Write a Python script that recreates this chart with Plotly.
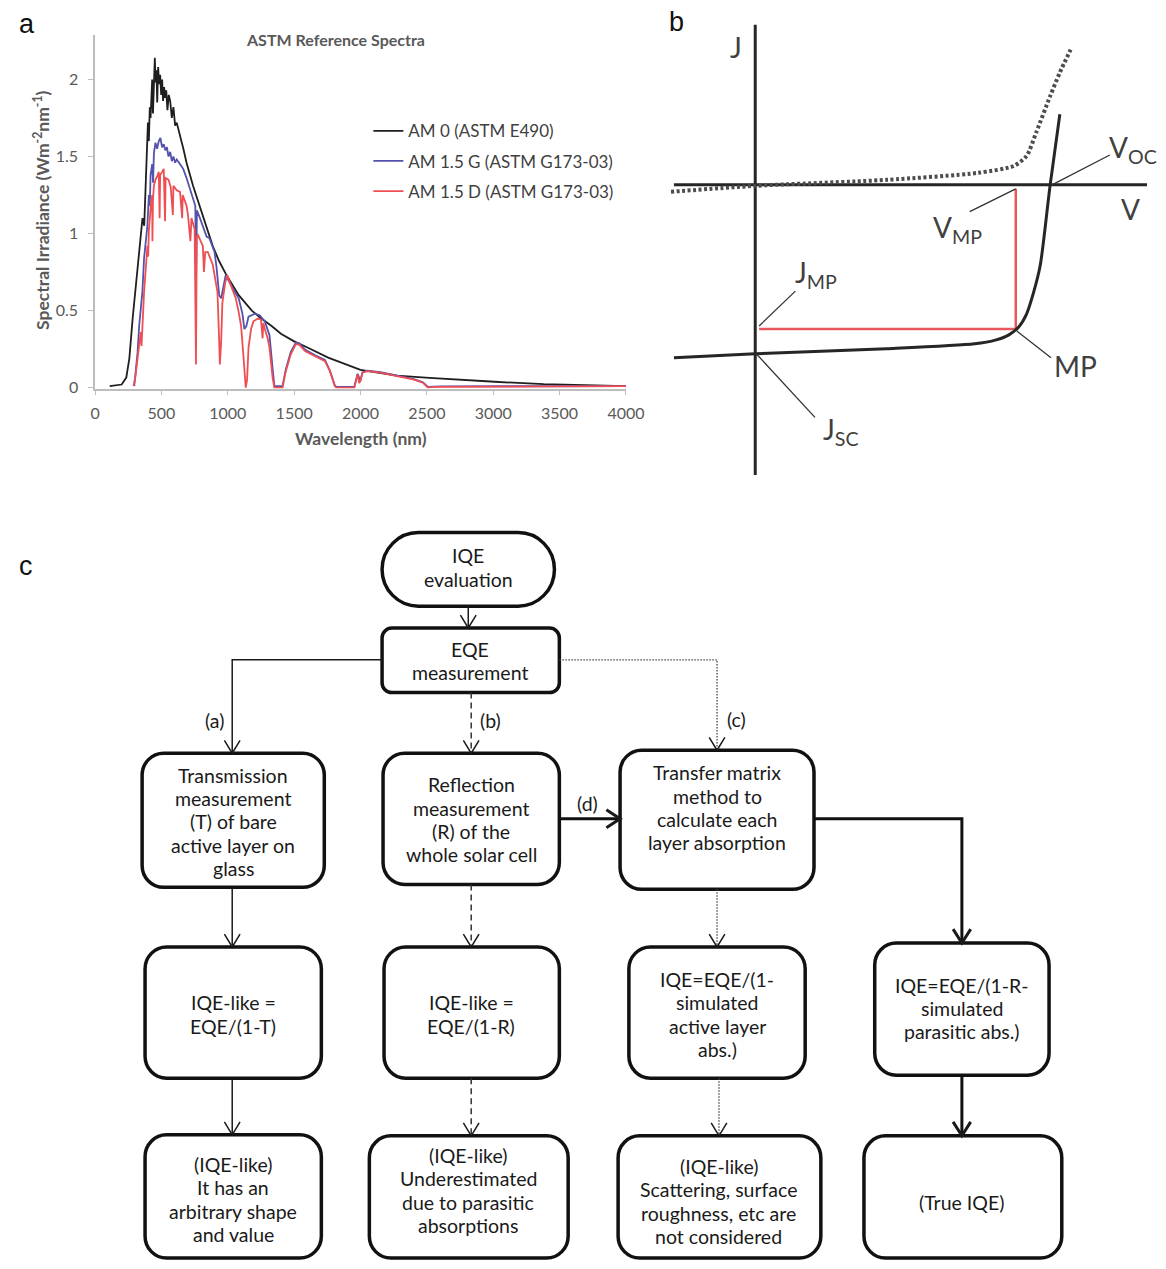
import plotly.graph_objects as go

W, H = 1166, 1269

# ---------------- Panel a: ASTM reference spectra ----------------
am0_wl = [110, 200, 235, 258, 283, 307, 320, 332, 345, 357, 370, 381, 392, 398, 405, 412, 418, 425,
          430, 436, 442, 450, 456, 462, 468, 475, 482, 490, 498, 505, 512, 520, 528, 536, 545, 555,
          566, 578, 590, 603, 615, 630, 650, 665, 689, 738, 787, 836, 886, 935, 984, 1082, 1181, 1250,
          1330, 1400, 1500, 1600, 1756, 2000, 2273, 2519, 2765, 3011, 3380, 3700, 4000]
am0_val = [0.01, 0.02, 0.065, 0.19, 0.45, 0.67, 0.80, 0.90, 1.02, 1.10, 1.05, 1.31, 1.45, 1.72, 1.60,
           1.82, 1.75, 1.92, 2.0, 1.78, 1.95, 2.14, 1.98, 2.06, 1.85, 2.08, 1.97, 2.03, 1.90, 2.0,
           1.86, 1.95, 1.88, 1.93, 1.80, 1.90, 1.86, 1.75, 1.82, 1.70, 1.72, 1.66, 1.60, 1.55, 1.46,
           1.31, 1.18, 1.05, 0.92, 0.82, 0.74, 0.60, 0.50, 0.45, 0.40, 0.35, 0.30, 0.26, 0.195,
           0.115, 0.078, 0.063, 0.049, 0.038, 0.022, 0.013, 0.009]

g_wl = [295, 310, 320, 332, 344, 356, 369, 381, 394, 405, 412, 418, 430, 437, 443, 455, 467, 480,
        492, 505, 517, 529, 541, 553, 566, 578, 590, 603, 615, 640, 664, 689, 713, 738, 755, 761,
        767, 790, 812, 840, 861, 900, 915, 935, 950, 968, 984, 1033, 1082, 1110, 1125, 1140, 1156,
        1205, 1240, 1279, 1314, 1338, 1351, 1412, 1437, 1474, 1511, 1535, 1584, 1658, 1732, 1769,
        1806, 1818, 1953, 1978, 1998, 2015, 2052, 2150, 2273, 2396, 2470, 2507, 2600, 3000, 3500, 4000]
g_val = [0.01, 0.12, 0.23, 0.40, 0.51, 0.62, 0.84, 0.95, 1.05, 1.25, 1.18, 1.38, 1.45, 1.33, 1.52,
         1.59, 1.55, 1.60, 1.62, 1.56, 1.58, 1.54, 1.56, 1.50, 1.53, 1.47, 1.50, 1.46, 1.48, 1.45,
         1.42, 1.36, 1.29, 1.23, 1.18, 0.70, 1.15, 1.10, 1.05, 0.98, 0.97, 0.88, 0.78, 0.60, 0.58,
         0.66, 0.73, 0.65, 0.58, 0.48, 0.38, 0.40, 0.46, 0.48, 0.47, 0.43, 0.34, 0.12, 0.01, 0.01,
         0.12, 0.23, 0.29, 0.29, 0.245, 0.21, 0.18, 0.11, 0.015, 0.005, 0.005, 0.09, 0.045, 0.10,
         0.11, 0.10, 0.078, 0.056, 0.034, 0.005, 0.008, 0.008, 0.009, 0.01]

d_wl = [290, 305, 320, 335, 344, 350, 356, 369, 380, 394, 400, 405, 418, 430, 432, 436, 443, 455,
        467, 480, 486, 490, 505, 517, 527, 531, 553, 570, 586, 590, 615, 640, 656, 660, 689, 700,
        718, 726, 750, 760, 766, 775, 812, 820, 830, 849, 886, 900, 922, 935, 940, 950, 959, 980,
        996, 1033, 1060, 1082, 1100, 1119, 1135, 1145, 1156, 1175, 1193, 1230, 1250, 1262, 1268,
        1279, 1300, 1314, 1338, 1351, 1412, 1437, 1474, 1511, 1535, 1584, 1658, 1700, 1732, 1769,
        1806, 1818, 1953, 1978, 1990, 1998, 2015, 2052, 2150, 2273, 2396, 2470, 2507, 2550, 3000,
        3400, 3600, 4000]
d_val = [0.01, 0.08, 0.19, 0.30, 0.36, 0.27, 0.42, 0.62, 0.75, 0.92, 0.85, 1.02, 1.16, 1.25, 0.95,
         1.22, 1.31, 1.35, 1.37, 1.40, 1.10, 1.38, 1.40, 1.42, 1.08, 1.36, 1.35, 1.30, 1.12, 1.31,
         1.28, 1.27, 1.10, 1.25, 1.18, 1.12, 0.95, 1.10, 1.03, 0.15, 0.98, 0.99, 0.92, 0.75, 0.88,
         0.88, 0.80, 0.72, 0.62, 0.30, 0.15, 0.30, 0.55, 0.68, 0.73, 0.64, 0.58, 0.49, 0.40, 0.19,
         0.0, 0.05, 0.26, 0.38, 0.43, 0.45, 0.44, 0.32, 0.42, 0.38, 0.32, 0.26, 0.06, 0.0, 0.0,
         0.107, 0.215, 0.28, 0.28, 0.236, 0.204, 0.19, 0.172, 0.107, 0.01, 0.0, 0.0, 0.086, 0.03,
         0.04, 0.097, 0.107, 0.097, 0.075, 0.054, 0.032, 0.0, 0.005, 0.006, 0.008, 0.01, 0.01]

spectra_names = ["AM 0 (ASTM E490)", "AM 1.5 G (ASTM G173-03)", "AM 1.5 D (ASTM G173-03)"]
x_ticks = [0, 500, 1000, 1500, 2000, 2500, 3000, 3500, 4000]
y_ticks = [0, 0.5, 1, 1.5, 2]

# ---------------- Panel b: J-V schematic ----------------
light_V = [-0.083, 0.0, 0.134, 0.224, 0.246, 0.259, 0.269, 0.277, 0.284, 0.291, 0.301, 0.311]
light_J = [-17.4, -17.0, -16.5, -16.0, -15.6, -15.1, -14.3, -13.0, -10.9, -8.1, -0.1, 7.1]
dark_V = [-0.086, 0.0, 0.134, 0.227, 0.264, 0.277, 0.287, 0.301, 0.311, 0.322]
dark_J = [-0.7, -0.1, 0.5, 1.2, 1.9, 2.9, 5.3, 8.9, 11.3, 13.6]
V_MP, J_MP = 0.266, -14.5

# ---------------- Panel c: flowchart ----------------
node_text = {
    "start": ["IQE", "evaluation"],
    "eqe": ["EQE", "measurement"],
    "T": ["Transmission", "measurement", "(T) of bare", "active layer on", "glass"],
    "R": ["Reflection", "measurement", "(R) of the", "whole solar cell"],
    "TM": ["Transfer matrix", "method to", "calculate each", "layer absorption"],
    "A2": ["IQE-like =", "EQE/(1-T)"],
    "B2": ["IQE-like =", "EQE/(1-R)"],
    "C2": ["IQE=EQE/(1-", "simulated", "active layer", "abs.)"],
    "D2": ["IQE=EQE/(1-R-", "simulated", "parasitic abs.)"],
    "A3": ["(IQE-like)", "It has an", "arbitrary shape", "and value"],
    "B3": ["(IQE-like)", "Underestimated", "due to parasitic", "absorptions"],
    "C3": ["(IQE-like)", "Scattering, surface", "roughness, etc are", "not considered"],
    "D3": ["(True IQE)"],
}
edge_labels = ["(a)", "(b)", "(c)", "(d)"]

# layout of the flowchart (box geometry in panel units)
node_box = {
    "start": (385, 536, 561, 610, 37),
    "eqe": (385, 632, 566, 697, 10),
    "T": (140, 758, 326, 893, 22),
    "R": (386, 758, 566, 890, 22),
    "TM": (628, 755, 826, 895, 22),
    "A2": (143, 953, 323, 1085, 22),
    "B2": (387, 953, 566, 1085, 22),
    "C2": (637, 953, 817, 1085, 22),
    "D2": (888, 949, 1066, 1082, 22),
    "A3": (143, 1142, 323, 1266, 22),
    "B3": (372, 1143, 575, 1266, 22),
    "C3": (626, 1143, 833, 1266, 22),
    "D3": (877, 1143, 1079, 1266, 22),
}
node_text_pos = {
    "start": (473, 571), "eqe": (475, 665), "T": (233, 827), "R": (476, 825),
    "TM": (727, 813), "A2": (233, 1021), "B2": (476, 1021), "C2": (727, 1021),
    "D2": (977, 1015), "A3": (233, 1207), "B3": (473, 1198), "C3": (729, 1209),
    "D3": (977, 1210),
}
LINE_STEP = 23.5
edge_label_pos = [(214, 725), (496, 725), (747, 724), (595, 809)]

styles = {
    "thin": dict(color="#1a1a1a", width=1.5),
    "dash": dict(color="#333333", width=1.5, dash="6px,4px"),
    "dot": dict(color="#444444", width=1.3, dash="1.5px,1.5px"),
    "thick": dict(color="#111111", width=3),
}
edges = [
    ([(473, 610), (473, 632)], "thin", "down"),
    ([(385, 664), (232, 664), (232, 758)], "thin", "down"),
    ([(476, 697), (476, 758)], "dash", "down"),
    ([(566, 664), (727, 664), (727, 755)], "dot", "down"),
    ([(566, 824), (628, 824)], "thick", "right"),
    ([(826, 824), (977, 824), (977, 949)], "thick", "down"),
    ([(232, 893), (232, 953)], "thin", "down"),
    ([(476, 890), (476, 953)], "dash", "down"),
    ([(727, 895), (727, 953)], "dot", "down"),
    ([(232, 1085), (232, 1142)], "thin", "down"),
    ([(476, 1085), (476, 1143)], "dash", "down"),
    ([(729, 1085), (729, 1143)], "dot", "down"),
    ([(977, 1082), (977, 1143)], "thick", "down"),
]

TEXT_FONT = "Lato, 'Open Sans', sans-serif"
GRAY = "#595959"


def px(x):
    return x / W


def py(y):
    return 1 - y / H


fig = go.Figure()

# ---- panel a traces
colors_a = ["#1f1f1f", "#5352ad", "#ef4e52"]
for i, (wl, val) in enumerate([(am0_wl, am0_val), (g_wl, g_val), (d_wl, d_val)]):
    fig.add_trace(go.Scatter(
        x=wl, y=val, mode="lines", name=spectra_names[i],
        line=dict(color=colors_a[i], width=1.8),
        xaxis="x", yaxis="y", legendgroup=f"g{i}", hoverinfo="skip"))

# ---- panel b traces
ax_col = "#262626"
fig.add_trace(go.Scatter(x=[-0.083, 0.40], y=[0, 0], mode="lines", line=dict(color=ax_col, width=3),
                         xaxis="x2", yaxis="y2", showlegend=False, hoverinfo="skip"))
fig.add_trace(go.Scatter(x=[0, 0], y=[16.1, -29.2], mode="lines", line=dict(color=ax_col, width=3),
                         xaxis="x2", yaxis="y2", showlegend=False, hoverinfo="skip"))
fig.add_trace(go.Scatter(x=dark_V, y=dark_J, mode="lines",
                         line=dict(color="#4d4d4d", width=4, dash="3px,2.5px", shape="spline", smoothing=0.7),
                         xaxis="x2", yaxis="y2", showlegend=False, hoverinfo="skip"))
fig.add_trace(go.Scatter(x=[0.004, V_MP, V_MP], y=[J_MP, J_MP, -0.4], mode="lines",
                         line=dict(color="#e8575d", width=2.5),
                         xaxis="x2", yaxis="y2", showlegend=False, hoverinfo="skip"))
fig.add_trace(go.Scatter(x=light_V, y=light_J, mode="lines",
                         line=dict(color=ax_col, width=3, shape="spline", smoothing=0.7),
                         xaxis="x2", yaxis="y2", showlegend=False, hoverinfo="skip"))

leaders = [
    ([0.303, 0.362], [0.0, 3.0]),     # Voc
    ([0.266, 0.219], [-0.4, -2.7]),   # Vmp
    ([0.004, 0.041], [-14.2, -10.7]),  # Jmp
    ([0.267, 0.302], [-14.7, -17.4]),  # MP
    ([0.002, 0.061], [-17.1, -23.4]),  # Jsc
]
for lx, ly in leaders:
    fig.add_trace(go.Scatter(x=lx, y=ly, mode="lines", line=dict(color="#333333", width=1.3),
                             xaxis="x2", yaxis="y2", showlegend=False, hoverinfo="skip"))

# invisible anchor trace for flowchart axes
fig.add_trace(go.Scatter(x=[0], y=[520], mode="markers", marker=dict(opacity=0), xaxis="x3", yaxis="y3",
                         showlegend=False, hoverinfo="skip"))

annotations = []


def paper_text(text, x, y, font, **kw):
    d = dict(text=text, x=px(x), y=py(y), xref="paper", yref="paper", showarrow=False,
             xanchor="center", yanchor="middle", font=font)
    d.update(kw)
    annotations.append(d)


# panel letters
for letter, (lx, ly) in zip(["a", "b", "c"], [(22, 24), (686, 22), (21, 570)]):
    paper_text(letter, lx, ly, dict(family="Liberation Sans, Arial", size=27, color="#111111"))

# panel a texts
paper_text("<b>ASTM Reference Spectra</b>", 337, 40, dict(family=TEXT_FONT, size=16, color=GRAY))
paper_text("<b>Wavelength (nm)</b>", 363, 441, dict(family=TEXT_FONT, size=17.5, color=GRAY))
paper_text("<b>Spectral Irradiance (Wm<sup>-2</sup>nm<sup>-1</sup>)</b>", 37, 212,
           dict(family=TEXT_FONT, size=17.5, color=GRAY), textangle=-90)

# panel b labels
b_font = dict(family=TEXT_FONT, size=28, color="#404040")
b_labels = [
    ("J", -0.020, 13.9, "center"),
    ("V<sub>OC</sub>", 0.359, 3.6, "left"),
    ("V", 0.383, -2.4, "center"),
    ("V<sub>MP</sub>", 0.207, -4.4, "center"),
    ("J<sub>MP</sub>", 0.062, -9.0, "center"),
    ("MP", 0.327, -18.2, "center"),
    ("J<sub>SC</sub>", 0.088, -24.8, "center"),
]
for t, bx, by, anc in b_labels:
    annotations.append(dict(text=t, x=bx, y=by, xref="x2", yref="y2", showarrow=False,
                            xanchor=anc, yanchor="middle", font=b_font))

# panel c texts (one annotation per line)
c_font = dict(family=TEXT_FONT, size=19.5, color="#1a1a1a")
for key, lines in node_text.items():
    cx, cy = node_text_pos[key]
    n = len(lines)
    for i, line in enumerate(lines):
        annotations.append(dict(text=line, x=cx, y=cy + (i - (n - 1) / 2) * LINE_STEP,
                                xref="x3", yref="y3", showarrow=False, xanchor="center",
                                yanchor="middle", font=c_font))
for lab, (ex, ey) in zip(edge_labels, edge_label_pos):
    annotations.append(dict(text=lab, x=ex, y=ey, xref="x3", yref="y3", showarrow=False,
                            xanchor="center", yanchor="middle", font=c_font))

# shapes for flowchart
K = 0.5523


def rrect(x0, y0, x1, y1, r):
    k = r * K
    return (f"M{x0 + r},{y0} L{x1 - r},{y0} C{x1 - r + k},{y0} {x1},{y0 + r - k} {x1},{y0 + r} "
            f"L{x1},{y1 - r} C{x1},{y1 - r + k} {x1 - r + k},{y1} {x1 - r},{y1} "
            f"L{x0 + r},{y1} C{x0 + r - k},{y1} {x0},{y1 - r + k} {x0},{y1 - r} "
            f"L{x0},{y0 + r} C{x0},{y0 + r - k} {x0 + r - k},{y0} {x0 + r},{y0} Z")


shapes = []
for key, (x0, y0, x1, y1, r) in node_box.items():
    shapes.append(dict(type="path", path=rrect(x0, y0, x1, y1, r), xref="x3", yref="y3",
                       line=dict(color="#111111", width=3.5), fillcolor="rgba(0,0,0,0)"))

for pts, st, direction in edges:
    path = "M" + " L".join(f"{x},{y}" for x, y in pts)
    shapes.append(dict(type="path", path=path, xref="x3", yref="y3", line=styles[st]))
    ex, ey = pts[-1]
    hw, hl = (9, 14) if st == "thick" else (8, 13)
    if direction == "down":
        head = f"M{ex - hw},{ey - hl} L{ex},{ey} L{ex + hw},{ey - hl}"
    else:
        head = f"M{ex - hl},{ey - hw} L{ex},{ey} L{ex - hl},{ey + hw}"
    hwid = 3 if st == "thick" else 1.5
    shapes.append(dict(type="path", path=head, xref="x3", yref="y3",
                       line=dict(color="#1a1a1a", width=hwid)))

tickfont_a = dict(family=TEXT_FONT, size=16, color=GRAY)
fig.update_layout(
    width=W, height=H, margin=dict(l=0, r=0, t=0, b=0),
    paper_bgcolor="white", plot_bgcolor="rgba(0,0,0,0)",
    showlegend=True,
    legend=dict(x=px(371), y=py(114), xanchor="left", yanchor="top",
                font=dict(family=TEXT_FONT, size=17, color="#404040"),
                tracegroupgap=5, bgcolor="rgba(0,0,0,0)", itemwidth=30, traceorder="grouped"),
    xaxis=dict(domain=[px(92), px(634)], range=[0, 4000], tickvals=x_ticks, anchor="y",
               showline=True, linecolor="#bdbdbd", linewidth=1.5, ticks="outside", ticklen=5,
               tickcolor="#bdbdbd", showgrid=False, zeroline=False, tickfont=tickfont_a,
               ticklabelstandoff=5),
    yaxis=dict(domain=[py(391), py(35)], range=[-0.006, 2.29], tickvals=y_ticks, anchor="x",
               showline=True, linecolor="#bdbdbd", linewidth=1.5, ticks="outside", ticklen=5,
               tickcolor="#bdbdbd", showgrid=False, zeroline=False, tickfont=tickfont_a,
               ticklabelstandoff=7),
    xaxis2=dict(domain=[px(660), 1], range=[-0.106, 0.400], visible=False, anchor="y2"),
    yaxis2=dict(domain=[py(480), 1], range=[-29.4, 18.6], visible=False, anchor="x2"),
    xaxis3=dict(domain=[0, 1], range=[0, W], visible=False, anchor="y3"),
    yaxis3=dict(domain=[0, py(520)], range=[H, 520], visible=False, anchor="x3"),
    annotations=annotations,
    shapes=shapes,
)

fig.write_html("out.html")
